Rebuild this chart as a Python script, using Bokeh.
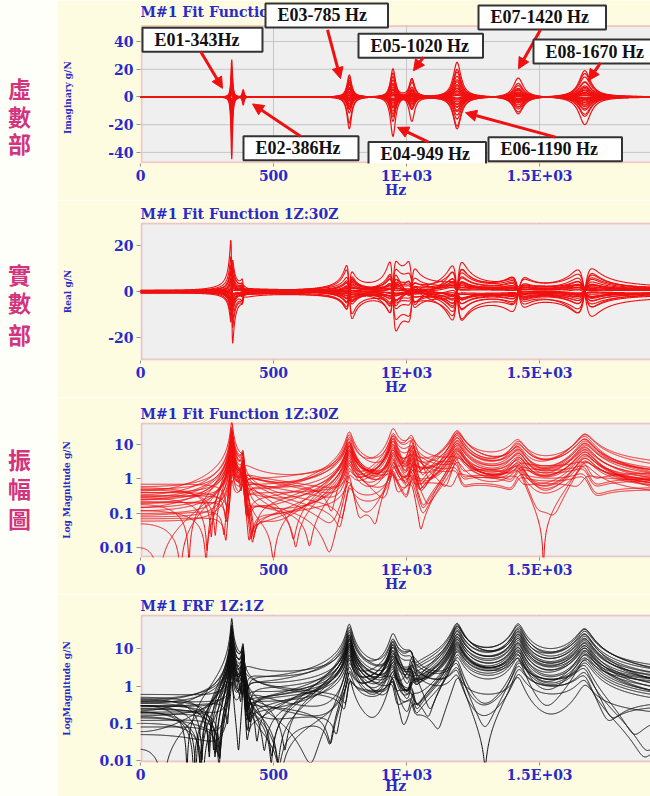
import numpy as np
from bokeh.plotting import figure
from bokeh.layouts import column, row
from bokeh.models import Range1d, FixedTicker, Label, Arrow, NormalHead, BoxAnnotation
from bokeh.embed import file_html
from bokeh.resources import INLINE

# ---------------- data ----------------
freq_hz = np.arange(0.0, 1921.0, 1.0)          # frequency sampling of the FRFs
mode_freqs = [343, 386, 785, 949, 1020, 1190, 1420, 1670]
mode_names = ["E01-343Hz", "E02-386Hz", "E03-785 Hz", "E04-949 Hz",
              "E05-1020 Hz", "E06-1190 Hz", "E07-1420 Hz", "E08-1670 Hz"]
fit_damping = [0.010, 0.010, 0.013, 0.012, 0.012, 0.015, 0.016, 0.016]
meas_damping = [0.008, 0.008, 0.011, 0.012, 0.012, 0.013, 0.012, 0.014]

# modal peak values (imaginary part at resonance, g/N) for points 1Z..30Z
res_343 = [-45, 27, -31, 22, -18, 15, -12, 10, -8.5, 7, -5.5, 4.5, -3.5, 2.8, -2.2,
           18, -24, 12, -9.5, 6.5, -4.8, 3.6, -2.6, 1.8, -1.3, 0.9, 13, -16, 8, -11]
res_386 = [2.5, -6.2, 4.8, -3.5, 5.5, -2.8, 1.9, -4.2, 3.1, -1.4, 2.2, -0.9, 1.6, -3.8, 0.7,
           -2.1, 4.1, -1.2, 0.6, -2.6, 1.1, -0.5, 3.3, -1.7, 0.4, -1.0, 2.9, -0.8, 1.4, -0.3]
res_785 = [12, -23, 16, -9, 7, -19, 5.5, -4.5, 3.5, -2.8, 10.5, -8, 6.3, -5, 4,
           -3.2, 2.5, -2, 1.6, -1.2, 14, -11.5, 8.8, -7, 1.1, -0.8, 0.6, -0.5, 9.5, -6]
res_949 = [-18, 21, -29, 15, -12.5, 10, -8, 7, -6, 5, -4, 3.2, -2.6, 2, -1.5,
           17, -14, 12, -10, 8.5, -7, 5.5, -4.5, 3.6, -2.8, 2.2, -1.7, 1.3, -1, 0.8]
res_1020 = [11, -18, 14, -7.5, 6, -5, 4.2, -3.5, 2.8, -2.3, 1.9, -1.5, 1.2, -9, 0.8,
            12.5, -8.2, 6.8, -5.6, 4.6, -3.8, 3, -2.4, 2, -1.6, 1.3, -1, 0.8, -0.6, 0.5]
res_1190 = [25, -21, 18, -23, 15, -13, 11, -9.5, 8, -7, 6, -5, 4.2, -3.5, 3,
            -2.5, 2, -1.6, 1.3, -1, 20, -16, 12.5, -10.5, 9, -7.5, 6.5, -5.5, 4.5, -0.8]
res_1420 = [-9, 14, -11, 8.5, -7.5, 6.5, -5.8, 5, -4.4, 3.8, -3.3, 2.8, -2.4, 2, -1.7,
            1.4, -1.2, 1, -0.8, 0.6, -12.5, 10, -7.2, 5.6, -4.2, 3.2, -2.6, 2.1, -1.6, 0.5]
res_1670 = [19, -20, 14.5, -12.5, 11, -9.5, 8, -7, 6, -5.2, 4.5, -3.9, 3.3, -2.8, 2.4,
            -2, 1.6, -1.3, 1, -0.8, 17, -14, 10.5, -8.5, 7, -6, 5, -4, 3, -0.6]
fit_residual = [0.45, -0.6, 0.35, -0.3, 0.5, -0.25, 0.2, -0.4, 0.15, -0.12, 0.3, -0.1, 0.08, -0.22, 0.06,
                0.55, -0.18, 0.28, -0.05, 0.12, -0.7, 0.4, -0.09, 0.2, -0.33, 0.07, -0.15, 0.25, 0.01, -0.48]
# measured FRF: peak ratio to the fit per mode, and its own residual levels
meas_scale = [1.45, 2.1, 2.0, 0.9, 0.4, 1.95, 3.4, 1.75]
meas_residual = [-0.3, 0.5, -0.45, 0.2, -0.35, 0.4, -0.15, 0.3, -0.25, 0.1, -0.2, 0.18, -0.12, 0.28, -0.08,
                 -0.4, 0.22, -0.35, 0.06, -0.16, 0.6, -0.3, 0.14, -0.24, 0.38, -0.05, 0.2, -0.3, 0.02, 0.45]

x_ticks = [0, 500, 1000, 1500]
x_tick_labels = ["0", "500", "1E+03", "1.5E+03"]
imag_ticks = [-40, -20, 0, 20, 40]
real_ticks = [-20, 0, 20]
log_ticks = [0.01, 0.1, 1, 10]
log_tick_labels = ["0.01", "0.1", "1", "10"]

titles = ["M#1 Fit Function 1Z:30Z", "M#1 Fit Function 1Z:30Z", "M#1 Fit Function 1Z:30Z", "M#1 FRF 1Z:1Z"]
y_titles = ["Imaginary g/N", "Real g/N", "Log Magnitude g/N", "LogMagnitude g/N"]
side_titles = ["虛數部", "實數部", "振幅圖", ""]

# ---------------- synthesis from modal parameters ----------------
res_table = np.array([res_343, res_386, res_785, res_949, res_1020, res_1190, res_1420, res_1670], dtype=float)
n_dof = res_table.shape[1]


def synth(scale, zetas, residual):
    H = np.tile(np.array(residual, dtype=complex), (len(freq_hz), 1))
    for k, fr in enumerate(mode_freqs):
        r = freq_hz / fr
        z = zetas[k]
        shape = -(r ** 2) / (1 - r ** 2 + 2j * z * r)
        H += np.outer(shape, 2 * z * res_table[k] * scale[k])
    return H


H_fit = synth([1.0] * 8, fit_damping, fit_residual)
H_meas = synth(meas_scale, meas_damping, meas_residual)

# ---------------- style / layout ----------------
YELLOW = "#fdfbe0"
WHITE = "#fffffa"
BLUE = "#2a2ac8"
FRAME = "#e06a6a"
RED = "#f01010"
PINK = "#d2357d"
STRIP_W = 57
W = 650
FL, FR = 140, 650
XMAX = (FR - FL) / 133.0 * 500.0
NBSP = "\u00a0"

# per panel: figure height, plot-area top/bottom (px inside the figure), y range
panels = [
    dict(h=200, top=25, bottom=167, y0=-48.0, y1=52.0, log=False, ticks=imag_ticks,
         labels=[str(v) for v in imag_ticks], side_py=[90, 118, 146], hz_off=-5,
         ylab_standoff=32, ylab_pad=10),
    dict(h=197, top=22, bottom=163, y0=-30.0, y1=30.0, log=False, ticks=real_ticks,
         labels=[str(v) for v in real_ticks], side_py=[75, 103, 136], hz_off=-5,
         ylab_standoff=32, ylab_pad=0),
    dict(h=197, top=25, bottom=165, y0=0.0053, y1=43.0, log=True, ticks=log_ticks,
         labels=log_tick_labels, side_py=[63, 93, 124], hz_off=-5,
         ylab_standoff=24, ylab_pad=0),
    dict(h=202, top=19, bottom=173, y0=0.0089, y1=84.0, log=True, ticks=log_ticks,
         labels=log_tick_labels, side_py=[], hz_off=-8,
         ylab_standoff=24, ylab_pad=0),
]


def xd(px):
    return (px - FL) / (FR - FL) * XMAX


def yd(s, py):
    t = (py - s["top"]) / (s["bottom"] - s["top"])
    if s["log"]:
        a, b = np.log10(s["y0"]), np.log10(s["y1"])
        return float(10 ** (b - t * (b - a)))
    return s["y1"] - t * (s["y1"] - s["y0"])


def style_axes(p, s, ytitle):
    for ax in (p.xaxis[0], p.yaxis[0]):
        ax.axis_line_color = None
        ax.major_tick_line_color = "#909090"
        ax.major_tick_out = 4
        ax.major_tick_in = 0
        ax.minor_tick_line_color = None
        ax.major_label_text_font = "DejaVu Serif"
        ax.major_label_text_font_style = "bold"
        ax.major_label_text_font_size = "14px"
        ax.major_label_text_color = BLUE
        ax.major_label_standoff = 3
        ax.axis_label_text_font = "DejaVu Serif"
        ax.axis_label_text_font_style = "bold"
        ax.axis_label_text_color = BLUE
    xa = p.xaxis[0]
    xa.major_tick_out = 3
    xa.major_label_standoff = 1
    xa.axis_label = "Hz"
    xa.axis_label_text_font_size = "14px"
    xa.axis_label_standoff = s["hz_off"]
    xa.ticker = FixedTicker(ticks=x_ticks)
    xa.major_label_overrides = {t: l for t, l in zip(x_ticks, x_tick_labels)}
    ya = p.yaxis[0]
    ya.ticker = FixedTicker(ticks=s["ticks"])
    ya.major_label_overrides = {t: l for t, l in zip(s["ticks"], s["labels"])}
    ya.axis_label = ytitle + NBSP * s["ylab_pad"]
    ya.axis_label_text_font_size = "9px"
    ya.axis_label_standoff = s["ylab_standoff"]


def plot_area_box(p, s):
    # gray plot area with the red frame on top / left / bottom (right side is cropped)
    p.add_layout(BoxAnnotation(left=xd(141), right=XMAX * 1.2, bottom=yd(s, s["bottom"] - 1),
                               top=yd(s, s["top"] + 1), fill_color="#efefef", fill_alpha=1.0,
                               line_color=FRAME, line_width=2, level="underlay"))


def make_main(s, ytitle, extended_top=False):
    top_px = 0 if extended_top else s["top"]
    s["frame_top"] = top_px
    y_end = yd(s, top_px)
    p = figure(width=W - STRIP_W, height=s["h"], x_range=Range1d(0, XMAX),
               y_range=Range1d(s["y0"], y_end),
               y_axis_type="log" if s["log"] else "linear", output_backend="svg", toolbar_location=None,
               min_border_left=FL - STRIP_W, min_border_right=0, min_border_top=top_px,
               min_border_bottom=s["h"] - s["bottom"])
    p.border_fill_color = YELLOW
    p.background_fill_color = YELLOW if extended_top else "#efefef"
    p.outline_line_color = None
    style_axes(p, s, ytitle)
    plot_area_box(p, s)
    if extended_top:
        p.xgrid.visible = False
        p.ygrid.visible = False
        gx = x_ticks[1:]
        p.segment(x0=gx, x1=gx, y0=[s["y0"]] * len(gx), y1=[s["y1"]] * len(gx),
                  line_color="#c6c6c6", line_width=1)
        p.segment(x0=[0] * len(s["ticks"]), x1=[XMAX] * len(s["ticks"]), y0=s["ticks"], y1=s["ticks"],
                  line_color="#c6c6c6", line_width=1)
    else:
        p.xgrid.grid_line_color = "#c6c6c6"
        p.ygrid.grid_line_color = "#c6c6c6"
    return p


def make_strip(s, side_text):
    # narrow white strip on the far left; its frame is aligned with the main frame by the row
    h = s["h"]
    p = figure(width=STRIP_W, height=h, x_range=Range1d(0, STRIP_W),
               y_range=Range1d(h - s["bottom"], h - s["frame_top"]),
               output_backend="svg", toolbar_location=None, min_border=0,
               x_axis_location=None, y_axis_location=None)
    p.grid.visible = False
    p.outline_line_color = None
    p.background_fill_color = WHITE
    p.border_fill_color = WHITE
    for ch, py in zip(side_text, s["side_py"]):
        p.add_layout(Label(x=19, y=h - py, text=ch, text_font="Noto Sans CJK TC", text_font_size="23px",
                           text_font_style="bold", text_color=PINK, text_align="center",
                           text_baseline="middle"))
    return p


def set_title(p, text):
    p.title.text = text
    p.title.align = "left"
    p.title.offset = 0
    p.title.standoff = 2
    p.title.text_font = "DejaVu Serif"
    p.title.text_font_style = "bold"
    p.title.text_font_size = "14px"
    p.title.text_color = BLUE


xs = [freq_hz] * n_dof
rows = []

# ---- panel 1: imaginary part with mode call-outs ----
s = panels[0]
p1 = make_main(s, y_titles[0], extended_top=True)
p1.multi_line(xs, [H_fit[:, j].imag for j in range(n_dof)], line_color=RED, line_width=1.2)
p1.add_layout(Label(x=0, y=yd(s, 12), text=titles[0], text_font="DejaVu Serif", text_font_style="bold",
                    text_font_size="14px", text_color=BLUE, text_align="left", text_baseline="middle"))

# call-out boxes: (box left, box top, box right, arrow start, arrow end) in pixels
callouts = [
    (142, 28, 262, (200, 52), (222, 90)),
    (243, 139, 358, (300, 139), (252, 106)),
    (265, 3, 387, (327, 30), (340, 80)),
    (368, 145, 485, (428, 145), (397, 130)),
    (358, 34, 482, (423, 58), (413, 72)),
    (488, 140, 622, (555, 140), (465, 115)),
    (478, 5, 605, (540, 30), (518, 70)),
    (533, 40, 680, (600, 64), (588, 82)),
]
TW = {"E": 667, "H": 778, "z": 444, "-": 333, " ": 250}


def text_w(t, size):
    return sum(TW.get(c, 500) for c in t) * size / 1000.0


BOX_FS = 18
for name, (bl, bt, br, a0, a1) in zip(mode_names, callouts):
    tw = text_w(name, BOX_FS)
    padl = 12
    padr = max(4, int(round(br - bl - padl - tw)))
    padt, padb = 2, 2
    common = dict(x=xd(bl), y=yd(s, bt), text=name, text_font="Liberation Serif",
                  text_font_style="bold", text_font_size=f"{BOX_FS}px", text_align="left",
                  text_baseline="top", padding=(padl, padr, padt, padb))
    p1.add_layout(Label(**common, text_alpha=0.0, background_fill_color="#9a9a9a",
                        x_offset=3, y_offset=-3))
    p1.add_layout(Label(**common, text_color="#111111", background_fill_color="white",
                        border_line_color="#333333", border_line_width=2))
    p1.add_layout(Arrow(end=NormalHead(size=11, fill_color=RED, line_color=RED, line_width=1),
                        x_start=xd(a0[0]), y_start=yd(s, a0[1]), x_end=xd(a1[0]), y_end=yd(s, a1[1]),
                        line_color=RED, line_width=3))
rows.append(row(make_strip(s, side_titles[0]), p1, spacing=0))

# ---- panel 2: real part ----
s = panels[1]
p2 = make_main(s, y_titles[1])
set_title(p2, titles[1])
p2.multi_line(xs, [H_fit[:, j].real for j in range(n_dof)], line_color=RED, line_width=1.1)
rows.append(row(make_strip(s, side_titles[1]), p2, spacing=0))

# ---- panel 3: log magnitude of fit ----
s = panels[2]
p3 = make_main(s, y_titles[2])
set_title(p3, titles[2])
p3.multi_line(xs, [np.abs(H_fit[:, j]) for j in range(n_dof)], line_color=RED, line_width=1)
rows.append(row(make_strip(s, side_titles[2]), p3, spacing=0))

# ---- panel 4: log magnitude of measured FRF ----
s = panels[3]
p4 = make_main(s, y_titles[3])
set_title(p4, titles[3])
p4.multi_line(xs, [np.abs(H_meas[:, j]) for j in range(n_dof)], line_color="#111111", line_width=1)
rows.append(row(make_strip(s, side_titles[3]), p4, spacing=0))

layout = column(*rows, spacing=0)
open("out.html", "w").write(file_html(layout, INLINE))
